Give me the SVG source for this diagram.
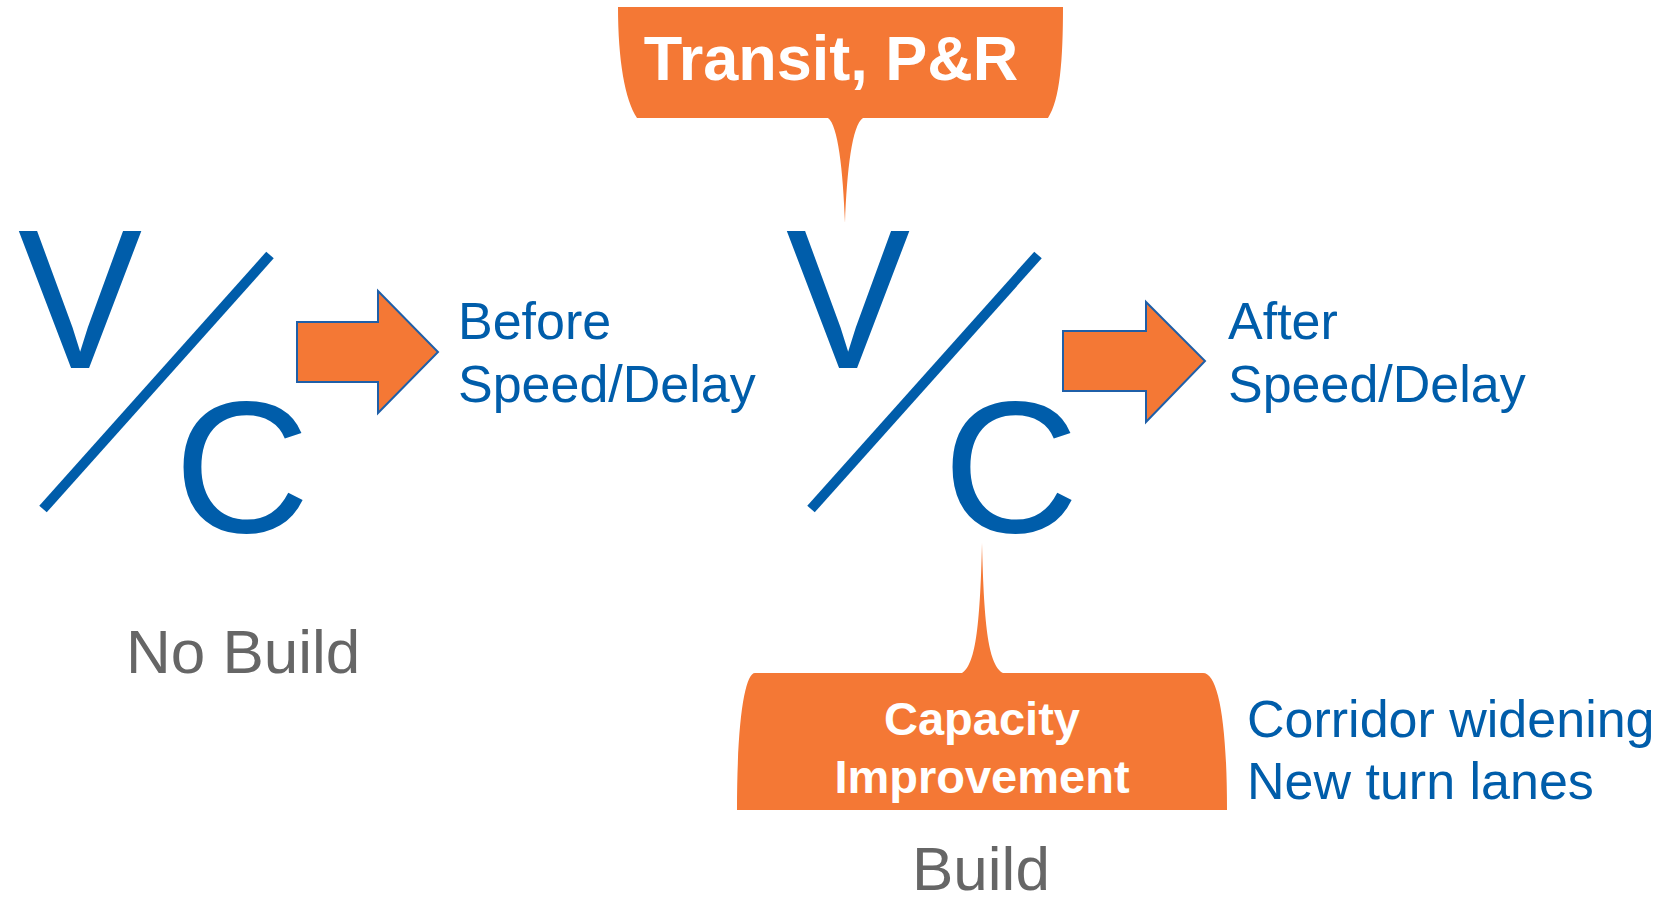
<svg xmlns="http://www.w3.org/2000/svg" width="1665" height="901" viewBox="0 0 1665 901">
<style>
.vc{font-family:"Liberation Sans",Arial,sans-serif;font-size:188px;fill:#005DAA}
.v{font-size:198px}
.slash{stroke:#005DAA;stroke-width:10;fill:none}
.arrow{fill:#F47835;stroke:#1F5FA8;stroke-width:2}
.lbl{font-family:"Liberation Sans",Arial,sans-serif;font-size:52px;fill:#005DAA}
.gray{font-family:"Liberation Sans",Arial,sans-serif;font-size:62px;fill:#666666}
.call{fill:#F47835}
.ctext{font-family:"Liberation Sans",Arial,sans-serif;font-weight:bold;fill:#FFFFFF;text-anchor:middle}
</style>
<rect width="1665" height="901" fill="#FFFFFF"/>
<g id="vc-nobuild">
<text class="vc v" transform="translate(18,368) scale(0.94,1)">V</text>
<line class="slash" x1="270" y1="255" x2="43" y2="509"/>
<text class="vc" x="174" y="532">C</text>
</g>
<g id="vc-build">
<text class="vc v" transform="translate(786,368) scale(0.94,1)">V</text>
<line class="slash" x1="1038" y1="255" x2="811" y2="509"/>
<text class="vc" x="943" y="532">C</text>
</g>
<g id="before">
<text class="lbl" x="458" y="339">Before</text>
<text class="lbl" x="458" y="402">Speed/Delay</text>
</g>
<g id="after">
<text class="lbl" x="1228" y="339">After</text>
<text class="lbl" x="1228" y="402">Speed/Delay</text>
</g>
<g id="nobuild-label"><text class="gray" x="126" y="673">No Build</text></g>
<g id="build-label"><text class="gray" x="912" y="890">Build</text></g>
<g id="transit">
<path class="call" d="M618,7 L1063,7 C1063,60 1060,100 1048,118 L863,118 C852,125 847,170 845,223 C843,170 838,125 828,118 L637,118 C625,100 618,60 618,7 Z"/>
<text class="ctext" x="831" y="80" font-size="63">Transit, P&amp;R</text>
</g>
<g id="capacity">
<path class="call" d="M755,673 L962,673 C975,665 980,630 982,543 C984,630 989,665 1003,673 L1203,673 C1218,673 1227,720 1227,810 L737,810 C737,720 745,673 755,673 Z"/>
<text class="ctext" x="982" y="735" font-size="47">Capacity</text>
<text class="ctext" x="982" y="793" font-size="47">Improvement</text>
</g>
<g id="corridor">
<text class="lbl" x="1247" y="737" font-size="53">Corridor widening</text>
<text class="lbl" x="1247" y="799" font-size="53">New turn lanes</text>
</g>
<g id="connectors">
<polygon class="arrow" points="297,322 378,322 378,291 438,352 378,413 378,382 297,382"/>
<polygon class="arrow" points="1063,331 1146,331 1146,302 1205,361 1146,422 1146,391 1063,391"/>
</g>
</svg>
